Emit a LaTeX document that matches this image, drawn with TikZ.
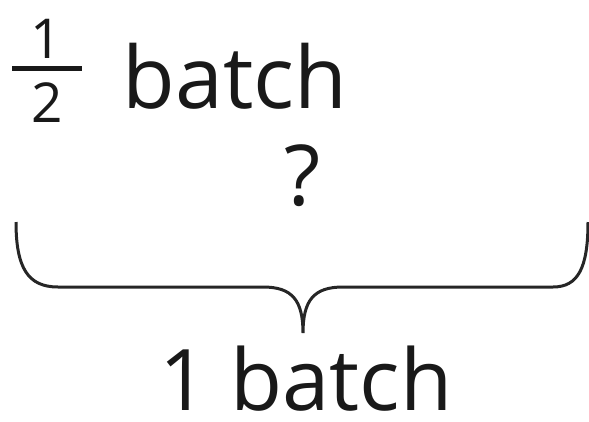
\documentclass[tikz,border=0pt]{standalone}
\usepackage{fontspec}
\setmainfont{Open Sans}
\usepackage{tikz}

\begin{document}
\begin{tikzpicture}[x=1pt,y=-1pt]

        \useasboundingbox (0,0) rectangle (589,421);

        \begin{scope}[every node/.style={inner sep=0pt, anchor=base, text=black!90}]
          \node (num)   at (46,58)   {\fontsize{55}{60}\selectfont 1};
          \node (den)   at (47,122)  {\fontsize{55}{60}\selectfont 2};
          \node (half)  at (235,108) {\fontsize{86}{90}\selectfont batch};
          \node (q)     at (303,205) {\fontsize{84}{90}\selectfont ?};
          \node (whole) at (306,410) {\fontsize{85}{90}\selectfont 1 batch};
        \end{scope}

        \draw[line width=5pt, black!90] (12,68) -- (82,68);

        \begin{scope}[line width=3pt, black!85]
          \coordinate (l)  at (16,222);
          \coordinate (r)  at (588,222);
          \coordinate (tip) at (303,333);
          \draw (l) .. controls (16,268) and (28,287) .. (58,287)
                -- (263,287) .. controls (292,287) and (303,300) .. (tip)
                .. controls (303,300) and (314,287) .. (343,287)
                -- (553,287) .. controls (578,287) and (588,268) .. (r);
        \end{scope}

      \end{tikzpicture}
\end{document}
